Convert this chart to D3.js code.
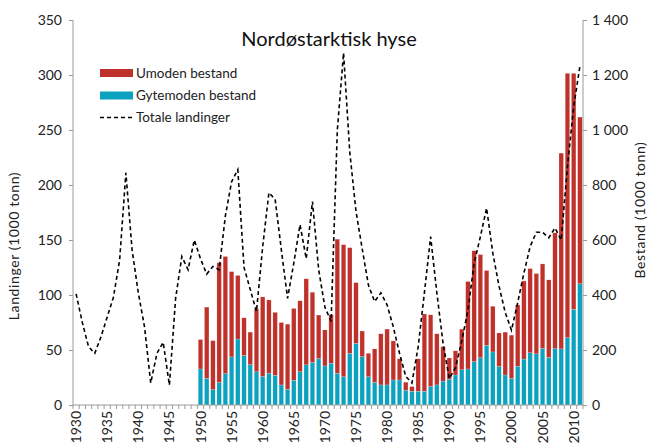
<!DOCTYPE html>
<html>
<head>
<meta charset="utf-8">
<script src="https://cdn.jsdelivr.net/npm/d3@7"></script>
<style>
  html, body { margin: 0; padding: 0; background: #fff; }
  svg { display: block; font-family: Lato, "Open Sans", sans-serif; }
</style>
</head>
<body>
<svg id="chart" width="650" height="446"></svg>
<script>
// ── Data ──────────────────────────────────────────────────────────────────────
const years = d3.range(1930, 2012);
const barYears = d3.range(1950, 2012);

// Totale landinger (1000 tonn), 1930–2011, left axis
const landinger = [
  101, 75, 53, 47, 62, 80, 98, 132, 211, 141,
  102, 71, 20, 47, 57, 18, 97, 135, 123, 150,
  133, 119, 126, 123, 172, 203, 214, 125, 105, 85,
  144, 193, 187, 141, 97, 129, 164, 133, 185, 123,
  89, 76, 250, 320, 230, 176, 142, 109, 94, 102,
  91, 71, 47, 26, 20, 53, 102, 153, 102, 56,
  24, 34, 58, 86, 129, 153, 179, 138, 108, 84,
  68, 93, 120, 144, 157, 157, 152, 161, 150, 217,
  271, 308
];

// Gytemoden bestand (1000 tonn), 1950–2011, right axis
const gytemoden = [
  131, 97, 56, 82, 114, 175, 240, 180, 147, 121,
  104, 116, 108, 73, 57, 90, 121, 146, 155, 169,
  142, 152, 115, 103, 188, 224, 176, 103, 82, 73,
  73, 91, 91, 54, 50, 50, 50, 67, 73, 87,
  94, 109, 128, 131, 158, 172, 217, 193, 140, 109,
  97, 141, 167, 190, 186, 206, 173, 205, 204, 245,
  348, 441
];

// Umoden bestand (1000 tonn), 1950–2011, stacked on top
const umoden = [
  107, 259, 178, 435, 426, 310, 231, 137, 118, 229,
  289, 266, 229, 227, 237, 261, 258, 313, 255, 158,
  131, 176, 488, 480, 384, 221, 93, 85, 122, 186,
  203, 142, 77, 29, 17, 118, 281, 261, 186, 125,
  77, 88, 148, 318, 403, 375, 272, 166, 122, 156,
  157, 223, 284, 306, 292, 307, 282, 421, 712, 961,
  858, 606
];

const leftTicks = [0, 50, 100, 150, 200, 250, 300, 350];
const rightTicks = [0, 200, 400, 600, 800, 1000, 1200, 1400];
const rightTickLabels = ['0', '200', '400', '600', '800', '1 000', '1 200', '1 400'];
const yearLabels = d3.range(1930, 2011, 5);

const CLR = { umoden: '#BF312B', gyte: '#0BA1BF', axis: '#9a9a9a', text: '#222' };

// ── Layout ────────────────────────────────────────────────────────────────────
const L = 73, R = 583, T = 20, B = 405;
const svg = d3.select('#chart');

const x = d3.scaleBand().domain(years).range([L, R]).paddingInner(0).paddingOuter(0);
const yL = d3.scaleLinear().domain([0, 350]).range([B, T]);
const yR = d3.scaleLinear().domain([0, 1400]).range([B, T]);

// ── Bars ──────────────────────────────────────────────────────────────────────
const bw = x.bandwidth() * 0.72;
const rows = barYears.map((yr, i) => ({ yr, g: gytemoden[i], u: umoden[i] }));
const stack = d3.stack().keys(['g', 'u'])(rows);
const gBars = svg.append('g');
stack.forEach((layer, li) => {
  gBars.selectAll(null).data(layer).join('rect')
    .attr('x', d => x(d.data.yr) + (x.bandwidth() - bw) / 2)
    .attr('width', bw)
    .attr('y', d => yR(d[1]))
    .attr('height', d => yR(d[0]) - yR(d[1]))
    .attr('fill', li === 0 ? CLR.gyte : CLR.umoden)
    .attr('stroke', 'rgba(255,255,255,0.45)')
    .attr('stroke-width', 0.4);
});

// ── Line ──────────────────────────────────────────────────────────────────────
const line = d3.line().x((d, i) => x(years[i]) + x.bandwidth() / 2).y(d => yL(d));
svg.append('path').datum(landinger).attr('d', line)
  .attr('fill', 'none').attr('stroke', '#000').attr('stroke-width', 1.6)
  .attr('stroke-dasharray', '4,3');

// ── Axes ──────────────────────────────────────────────────────────────────────
const axL = svg.append('g').attr('transform', `translate(${L},0)`)
  .call(d3.axisLeft(yL).tickValues(leftTicks).tickSize(4).tickPadding(7));
const axR = svg.append('g').attr('transform', `translate(${R},0)`)
  .call(d3.axisRight(yR).tickValues(rightTicks).tickSize(4).tickPadding(5)
    .tickFormat((d, i) => rightTickLabels[i]));

[axL, axR].forEach(a => {
  a.select('.domain').attr('stroke', CLR.axis);
  a.selectAll('.tick line').attr('stroke', CLR.axis);
  a.selectAll('.tick text').attr('fill', CLR.text).style('font-size', '14px')
    .style('font-family', 'Lato, sans-serif');
});
axL.select('.domain').attr('d', `M0,${B}V${T}`);
axR.select('.domain').attr('d', `M0,${B}V${T}`);

// bottom axis: baseline, ticks at category boundaries, labels every 5 years
const gX = svg.append('g');
gX.append('line').attr('x1', L).attr('x2', R).attr('y1', B).attr('y2', B).attr('stroke', CLR.axis);
gX.selectAll('.xt').data(years.concat([2012])).join('line')
  .attr('x1', d => d === 2012 ? R : x(d)).attr('x2', d => d === 2012 ? R : x(d))
  .attr('y1', B).attr('y2', B + 4).attr('stroke', CLR.axis);
gX.selectAll('.xl').data(yearLabels).join('text')
  .attr('transform', d => `translate(${x(d) + x.bandwidth() / 2 + 5},411) rotate(-90)`)
  .attr('text-anchor', 'end')
  .attr('fill', CLR.text).style('font-size', '14px')
  .text(d => d);

// ── Titles ────────────────────────────────────────────────────────────────────
svg.append('text').attr('x', 329).attr('y', 46).attr('text-anchor', 'middle')
  .attr('fill', '#111').style('font-size', '20px').text('Nordøstarktisk hyse');

svg.append('text').attr('transform', 'translate(19,246) rotate(-90)')
  .attr('text-anchor', 'middle').attr('fill', CLR.text)
  .style('font-size', '14px').style('letter-spacing', '0.6px')
  .text('Landinger (1000 tonn)');
svg.append('text').attr('transform', 'translate(645,210) rotate(-90)')
  .attr('text-anchor', 'middle').attr('fill', CLR.text)
  .style('font-size', '14px').style('letter-spacing', '0.6px')
  .text('Bestand (1000 tonn)');

// ── Legend ────────────────────────────────────────────────────────────────────
const legend = [
  { label: 'Umoden bestand', type: 'rect', color: CLR.umoden, y: 73 },
  { label: 'Gytemoden bestand', type: 'rect', color: CLR.gyte, y: 95.5 },
  { label: 'Totale landinger', type: 'line', color: '#000', y: 117.5 }
];
const gLeg = svg.append('g');
legend.forEach(l => {
  if (l.type === 'rect') {
    gLeg.append('rect').attr('x', 100).attr('y', l.y - 4).attr('width', 33).attr('height', 8).attr('fill', l.color);
  } else {
    gLeg.append('line').attr('x1', 100).attr('x2', 133).attr('y1', l.y).attr('y2', l.y)
      .attr('stroke', l.color).attr('stroke-width', 1.6).attr('stroke-dasharray', '4,3');
  }
  gLeg.append('text').attr('x', 136).attr('y', l.y + 4.5).attr('fill', CLR.text)
    .style('font-size', '13.5px').text(l.label);
});
</script>
</body>
</html>
